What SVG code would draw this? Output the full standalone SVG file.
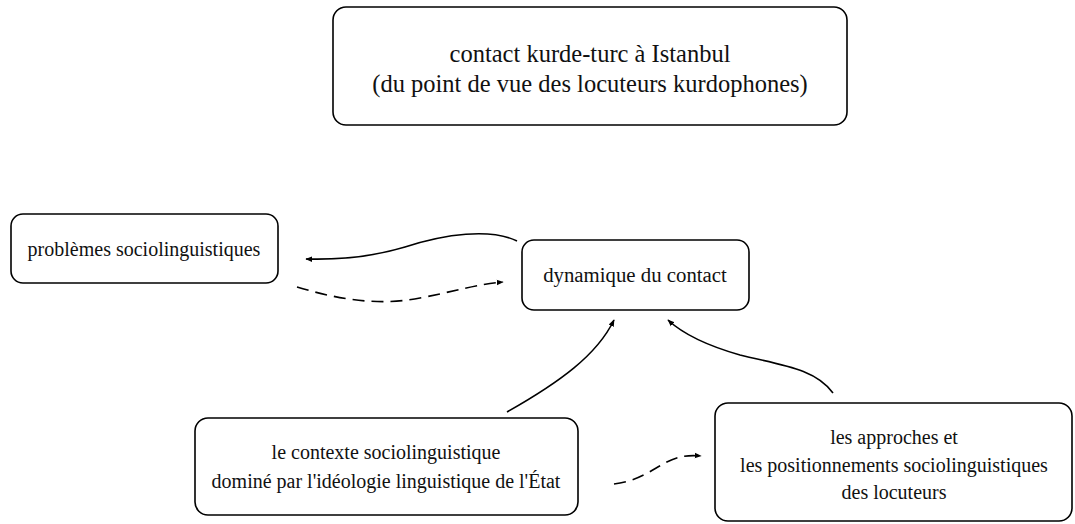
<svg xmlns="http://www.w3.org/2000/svg" width="1075" height="524" viewBox="0 0 1075 524">
<style>
.box{fill:#fff;stroke:#000;stroke-width:1.6}
text{font-family:'Liberation Serif','DejaVu Serif',serif;font-size:20px;fill:#111;text-anchor:middle}
text.big{font-size:24.5px}
.c{fill:none;stroke:#000;stroke-width:1.6}
.d{stroke-dasharray:12,7}
</style>
<defs>
<marker id="ah" viewBox="0 0 10 10" refX="9" refY="5" markerWidth="7" markerHeight="7" markerUnits="userSpaceOnUse" orient="auto">
<path d="M0,1 L10,5 L0,9 Z" fill="#000"/>
</marker>
</defs>
<rect width="1075" height="524" fill="#fff"/>
<g id="top">
<rect class="box" x="333" y="7" width="514" height="118" rx="13"/>
<text class="big" x="590" y="62">contact kurde-turc à Istanbul</text>
<text class="big" x="590" y="92">(du point de vue des locuteurs kurdophones)</text>
</g>
<g id="problemes">
<rect class="box" x="11" y="214" width="267" height="69" rx="12"/>
<text x="144" y="256">problèmes sociolinguistiques</text>
</g>
<g id="dynamique">
<rect class="box" x="522" y="240" width="227" height="70" rx="12"/>
<text x="635" y="282" style="font-size:20.8px">dynamique du contact</text>
</g>
<g id="contexte">
<rect class="box" x="195" y="418" width="383" height="97" rx="13"/>
<text x="386" y="459">le contexte sociolinguistique</text>
<text x="386" y="488">dominé par l'idéologie linguistique de l'État</text>
</g>
<g id="approches">
<rect class="box" x="715" y="403" width="357" height="118" rx="13"/>
<text x="894" y="444">les approches et</text>
<text x="894" y="472">les positionnements sociolinguistiques</text>
<text x="894" y="499">des locuteurs</text>
</g>
<g id="connectors">
<path class="c" marker-end="url(#ah)" d="M517,241 C490,228 445,234 405,247 C372,257 340,260 306,259"/>
<path class="c d" marker-end="url(#ah)" d="M297,287 C340,300 380,306 420,298 C452,292 478,284 503,282"/>
<path class="c" marker-end="url(#ah)" d="M507,412 C560,382 597,355 614,320"/>
<path class="c" marker-end="url(#ah)" d="M833,393 C815,368 780,365 740,355 C705,345 683,334 668,320"/>
<path class="c d" marker-end="url(#ah)" d="M614,484 C638,481 650,471 665,463 C678,456 688,455 701,456"/>
</g>
</svg>
